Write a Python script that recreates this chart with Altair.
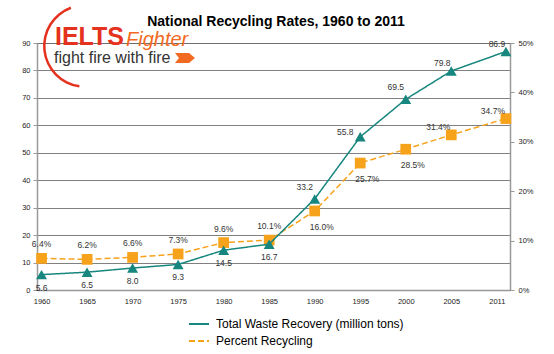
import altair as alt
import pandas as pd

# ---------------- data ----------------
years = [1960, 1965, 1970, 1975, 1980, 1985, 1990, 1995, 2000, 2005, 2011]
waste = [5.6, 6.5, 8.0, 9.3, 14.5, 16.7, 33.2, 55.8, 69.5, 79.8, 86.9]
percent = [6.4, 6.2, 6.6, 7.3, 9.6, 10.1, 16.0, 25.7, 28.5, 31.4, 34.7]
x_tick_values = [1960, 1965, 1970, 1975, 1980, 1985, 1990, 1995, 2000, 2005, 2010]
left_ticks = [0, 10, 20, 30, 40, 50, 60, 70, 80, 90]
right_ticks = [0, 10, 20, 30, 40, 50]
series_names = ["Total Waste Recovery (million tons)", "Percent Recycling"]
title_text = ["National Recycling Rates, 1960 to 2011"]
logo_words = ["IELTS", "Fighter", "fight fire with fire"]

TEAL = "#16867E"
ORANGE = "#F7A21B"
LOGO_RED = "#E5321F"
LOGO_ORANGE = "#F26A21"
FONT = "Liberation Sans"

df = pd.DataFrame({"year": years, "waste": waste, "percent": percent})
df["wlabel"] = [f"{v:.1f}" for v in waste]
df["plabel"] = [f"{v:.1f}%" for v in percent]

base = alt.Chart(df)

x_enc = alt.X(
    "year:Q",
    scale=alt.Scale(domain=[1959.5, 2011.45], nice=False, zero=False),
    axis=alt.Axis(
        values=x_tick_values, title=None, format="d",
        labelExpr="datum.value == 2010 ? '2011' : datum.label",
        grid=False, ticks=False, domainColor="#999999", domainWidth=1.5,
        labelFontSize=7.5, labelColor="#222222", labelPadding=7, labelFont=FONT,
    ),
)

color_scale = alt.Scale(domain=series_names, range=[TEAL, ORANGE])
dash_scale = alt.Scale(domain=series_names, range=[[1, 0], [6, 3]])
legend = alt.Legend(
    title=None, orient="none", legendX=151, legendY=270,
    symbolType="stroke", symbolSize=400, symbolStrokeWidth=2,
    labelFontSize=12, labelFont=FONT, labelColor="#000000", labelLimit=400,
    rowPadding=0, labelOffset=6, padding=0,
)

# ---------------- waste (left axis) ----------------
y_w = alt.Y(
    "waste:Q",
    scale=alt.Scale(domain=[0, 90], nice=False),
    axis=alt.Axis(
        orient="left", values=left_ticks, title=None, grid=True,
        gridDash=[1, 1], gridColor="#000000", gridWidth=1,
        domainColor="#999999", domainWidth=1.5, tickColor="#999999", tickSize=4,
        labelFontSize=7.5, labelPadding=3, labelColor="#222222", labelFont=FONT,
    ),
)

w_line = base.transform_calculate(series=f"'{series_names[0]}'").mark_line(
    strokeWidth=1.5
).encode(
    x=x_enc, y=y_w,
    color=alt.Color("series:N", scale=color_scale, legend=legend),
    strokeDash=alt.StrokeDash("series:N", scale=dash_scale, legend=legend),
)
w_pts = base.mark_point(shape="triangle-up", filled=True, size=120, color=TEAL, opacity=1).encode(
    x=x_enc, y=y_w
)
lab_style = dict(fontSize=8.5, color="#333333", font=FONT)
w_lab_below = base.transform_filter("datum.year <= 1985").mark_text(dy=13, **lab_style).encode(
    x=x_enc, y=y_w, text="wlabel:N"
)
w_lab_a = base.transform_filter("datum.year == 1990 || datum.year == 2000").mark_text(
    dx=-10, dy=-12, **lab_style
).encode(x=x_enc, y=y_w, text="wlabel:N")
w_lab_b = base.transform_filter("datum.year == 1995").mark_text(
    dx=-15, dy=-5, **lab_style
).encode(x=x_enc, y=y_w, text="wlabel:N")
w_lab_c = base.transform_filter("datum.year >= 2005").mark_text(
    dx=-9, dy=-8, **lab_style
).encode(x=x_enc, y=y_w, text="wlabel:N")
waste_layer = alt.layer(w_line, w_pts, w_lab_below, w_lab_a, w_lab_b, w_lab_c)

# ---------------- percent (right axis) ----------------
y_p = alt.Y(
    "percent:Q",
    scale=alt.Scale(domain=[0, 50], nice=False),
    axis=alt.Axis(
        orient="right", values=right_ticks, title=None, grid=False,
        labelExpr="datum.value + '%'",
        domainColor="#999999", domainWidth=1.5, tickColor="#999999", tickSize=4,
        labelFontSize=7.5, labelPadding=4, labelColor="#222222", labelFont=FONT,
    ),
)
p_line = base.transform_calculate(series=f"'{series_names[1]}'").mark_line(
    strokeWidth=1.5
).encode(
    x=x_enc, y=y_p,
    color=alt.Color("series:N", scale=color_scale, legend=legend),
    strokeDash=alt.StrokeDash("series:N", scale=dash_scale, legend=legend),
)
p_pts = base.mark_point(shape="square", filled=True, size=115, color=ORANGE, opacity=1).encode(
    x=x_enc, y=y_p
)
p_lab_above = base.transform_filter("datum.year <= 1985").mark_text(dy=-14, **lab_style).encode(
    x=x_enc, y=y_p, text="plabel:N"
)
p_lab_below = base.transform_filter("datum.year > 1985 && datum.year <= 2000").mark_text(
    dx=7, dy=16, **lab_style
).encode(x=x_enc, y=y_p, text="plabel:N")
p_lab_left = base.transform_filter("datum.year > 2000").mark_text(dx=-13, dy=-8, **lab_style).encode(
    x=x_enc, y=y_p, text="plabel:N"
)
pct_layer = alt.layer(p_line, p_pts, p_lab_above, p_lab_below, p_lab_left)

# ---------------- title & logo ----------------
title_mark = alt.Chart(pd.DataFrame({"t": title_text})).mark_text(
    align="center", baseline="alphabetic", font=FONT, fontSize=14, fontWeight="bold",
    color="#000000",
).encode(x=alt.value(239), y=alt.value(-17), text="t:N")

logo_df = pd.DataFrame({"word": logo_words})
logo_base = alt.Chart(logo_df)
logo_ielts = logo_base.transform_filter(alt.datum.word == logo_words[0]).mark_text(
    align="left", baseline="alphabetic", font=FONT, fontSize=25, fontWeight="bold",
    color=LOGO_RED,
).encode(x=alt.value(18), y=alt.value(2), text="word:N")
logo_fighter = logo_base.transform_filter(alt.datum.word == logo_words[1]).mark_text(
    align="left", baseline="alphabetic", font=FONT, fontSize=20, fontStyle="italic",
    color=LOGO_ORANGE,
).encode(x=alt.value(89), y=alt.value(3), text="word:N")
logo_slogan = logo_base.transform_filter(alt.datum.word == logo_words[2]).mark_text(
    align="left", baseline="alphabetic", font=FONT, fontSize=16, color="#333333",
).encode(x=alt.value(17), y=alt.value(20), text="word:N")
logo_arrow = logo_base.transform_filter(alt.datum.word == logo_words[2]).mark_point(
    shape="M-1,-0.5L0.4,-0.5L1,0L0.4,0.5L-1,0.5L-0.6,0Z", filled=True, size=400,
    color=LOGO_ORANGE, opacity=1,
).encode(x=alt.value(148), y=alt.value(15))
logo_arc = logo_base.transform_filter(alt.datum.word == logo_words[0]).mark_arc(
    theta=3.28, theta2=5.93, radius=42, radius2=39.5, color=LOGO_RED,
).encode(x=alt.value(48), y=alt.value(3))
logo_layer = alt.layer(title_mark, logo_arc, logo_ielts, logo_fighter, logo_slogan, logo_arrow)

chart = alt.layer(pct_layer, waste_layer, logo_layer).resolve_scale(
    y="independent"
).properties(
    width=473, height=247,
    autosize=alt.AutoSizeParams(type="none"),
    padding={"left": 37, "top": 43, "right": 44, "bottom": 64},
).configure_view(stroke=None).configure(background="white")

chart.save("out.html", embed_options={"renderer": "svg", "actions": False})
